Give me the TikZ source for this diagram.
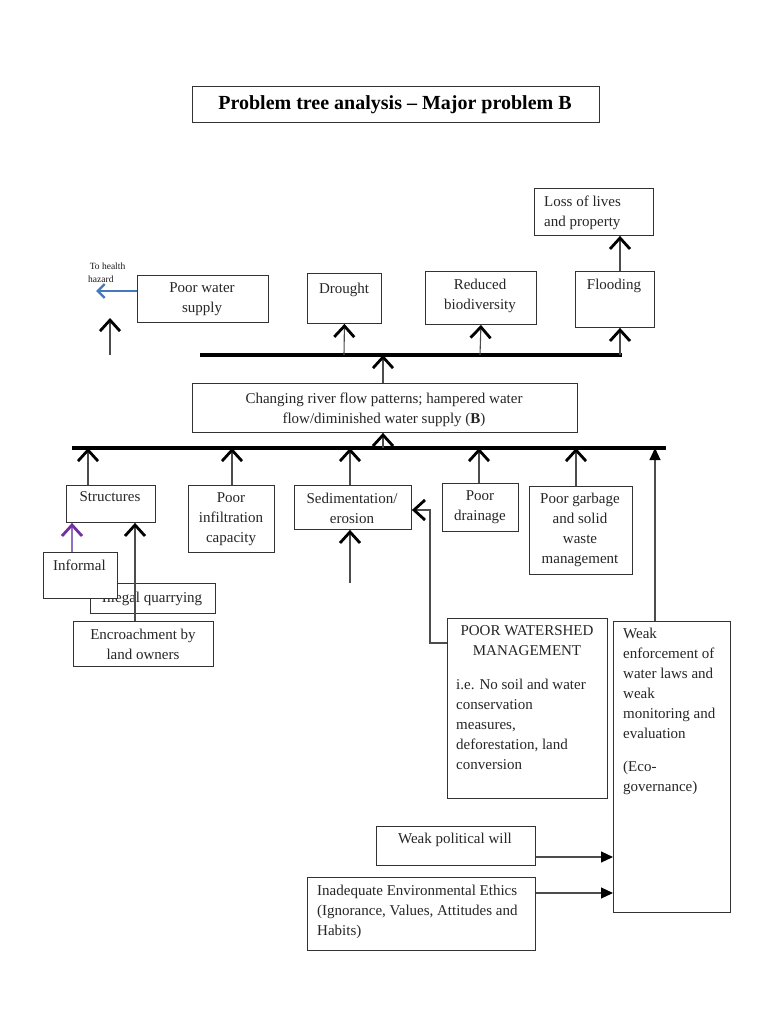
\documentclass[tikz,border=0pt]{standalone}
\usepackage{fontspec}
\setmainfont{Liberation Serif}
\usetikzlibrary{arrows.meta}
\definecolor{hblue}{RGB}{70,120,190}
\definecolor{purpl}{RGB}{112,48,160}
\definecolor{purpll}{RGB}{150,110,190}
\begin{document}
\begin{tikzpicture}[x=1pt,y=-1pt,
 box/.style={draw=black!80, line width=0.9pt, fill=white, inner sep=0pt, anchor=north west},
 txt/.style={font=\fontsize{15}{20}\selectfont, inner sep=0pt, anchor=north, align=center, text=black!85},
 ltxt/.style={font=\fontsize{15}{20}\selectfont, inner sep=0pt, anchor=north west, align=left, text=black!85},
 bar/.style={line width=3.2pt, black},
 chev/.style={draw=black!70, line width=1.1pt, -{Straight Barb[length=11pt,width=20pt,line width=2.8pt,color=black]}},
 tri/.style={draw=black!70, line width=1.1pt, -{Triangle[length=12pt,width=11pt,color=black]}},
]
\useasboundingbox (0,0) rectangle (768,1024);
\fill[white] (0,0) rectangle (768,1024);

% title
\node[box, line width=1.3pt, minimum width=407, minimum height=36] (title) at (192,86) {};
\node[inner sep=0pt, font=\fontsize{20}{24}\selectfont\bfseries] (titlet) at (395,104.5) {Problem tree analysis -- Major problem B};

% effects
\node[box, minimum width=119, minimum height=47] (loss) at (534,188) {};
\node[ltxt] (losst) at (544,195.5) {Loss of lives\\and property};
\node[box, minimum width=79, minimum height=56] (flood) at (575,271) {};
\node[txt] (floodt) at (614,278.5) {Flooding};
\node[box, minimum width=111, minimum height=53] (reduced) at (425,271) {};
\node[txt] (reducedt) at (480,278.5) {Reduced\\biodiversity};
\node[box, minimum width=74, minimum height=50] (drought) at (307,273) {};
\node[txt] (droughtt) at (344,282.5) {Drought};
\node[box, minimum width=131, minimum height=47] (pws) at (137,275) {};
\node[txt] (pwst) at (202,282.5) {Poor water\\supply};
\node[inner sep=0pt, anchor=north west, align=left, font=\fontsize{9.5}{13}\selectfont, text=black!90] (health) at (88,263) {\,To health\\hazard};

% core problem
\node[box, minimum width=385, minimum height=49] (main) at (192,383) {};
\node[txt] (maint) at (384,392.5) {Changing river flow patterns; hampered water\\flow/diminished water supply (\textbf{B})};

% causes
\node[box, minimum width=89, minimum height=37] (struct) at (66,485) {};
\node[txt] (structt) at (110,491.5) {Structures};
\node[box, minimum width=86, minimum height=67] (infil) at (188,485) {};
\node[txt] (infilt) at (231,492.5) {Poor\\infiltration\\capacity};
\node[box, minimum width=117, minimum height=44] (sed) at (294,485) {};
\node[txt] (sedt) at (352,492.5) {Sedimentation/\\erosion};
\node[box, minimum width=76, minimum height=48] (drain) at (442,483) {};
\node[txt] (draint) at (480,490.5) {Poor\\drainage};
\node[box, minimum width=103, minimum height=88] (garb) at (529,486) {};
\node[txt] (garbt) at (580,492.5) {Poor garbage\\and solid\\waste\\management};

\node[box, minimum width=125, minimum height=30] (illegal) at (90,583) {};
\node[txt] (illegalt) at (152,591.5) {Illegal quarrying};
\node[box, minimum width=74, minimum height=46] (informal) at (43,552) {};
\node[ltxt] (informalt) at (53,559.5) {Informal};
\node[box, minimum width=140, minimum height=45] (encro) at (73,621) {};
\node[txt] (encrot) at (143,628.5) {Encroachment by\\land owners};

\node[box, minimum width=160, minimum height=180] (ws) at (447,618) {};
\node[txt] (wst) at (527,625.5) {POOR WATERSHED\\MANAGEMENT};
\node[ltxt] (wsb) at (456,678.5) {i.e. No soil and water\\conservation\\measures,\\deforestation, land\\conversion};

\node[box, minimum width=117, minimum height=291] (we) at (613,621) {};
\node[ltxt] (wet) at (623,627.5) {Weak\\enforcement of\\water laws and\\weak\\monitoring and\\evaluation};
\node[ltxt] (weg) at (623,760.5) {(Eco-\\governance)};

\node[box, minimum width=159, minimum height=39] (pol) at (376,826) {};
\node[txt] (polt) at (455,832.5) {Weak political will};
\node[box, minimum width=228, minimum height=73] (ineq) at (307,877) {};
\node[ltxt] (ineqt) at (317,884.5) {Inadequate Environmental Ethics\\(Ignorance, Values, Attitudes and\\Habits)};

% bars
\coordinate (ubL) at (200,355);
\coordinate (ubR) at (622,355);
\draw[bar] (ubL) -- (ubR);
\coordinate (lbL) at (72,448);
\coordinate (lbR) at (666,448);
\draw[bar] (lbL) -- (lbR);

% upper connectors
\coordinate (ubD) at (344,355);
\coordinate (ubR2) at (480,355);
\coordinate (ubF) at (620,355);
\coordinate (ubM) at (383,355);
\draw[chev] (ubD) -- (drought.south);
\draw[chev] (ubR2) -- (reduced.south);
\draw[chev] (ubF) -- (flood.south -| ubF);
\draw[chev] (flood.north -| ubF) -- (loss.south -| ubF);
\draw[chev] (main.north -| ubM) -- (ubM);
\coordinate (la1) at (110,355);
\coordinate (la2) at (110,318);
\draw[chev] (la1) -- (la2);
\coordinate (hz) at (96,291);
\draw[draw=hblue, line width=1.1pt, -{Straight Barb[length=7pt,width=14pt,line width=2.4pt]}] (pws.west |- hz) -- (hz);

% lower connectors
\coordinate (lbM) at (383,448);
\draw[chev] (lbM) -- (main.south -| lbM);
\coordinate (lbS) at (88,448);
\coordinate (lbI) at (232,448);
\coordinate (lbSe) at (350,448);
\coordinate (lbD) at (479,448);
\coordinate (lbG) at (576,448);
\coordinate (lbW) at (655,448);
\draw[chev] (struct.north -| lbS) -- (lbS);
\draw[chev] (infil.north -| lbI) -- (lbI);
\draw[chev] (sed.north -| lbSe) -- (lbSe);
\draw[chev] (drain.north -| lbD) -- (lbD);
\draw[chev] (garb.north -| lbG) -- (lbG);
\draw[tri] (we.north -| lbW) -- (lbW);

\coordinate (sedb) at (350,583);
\draw[chev] (sedb) -- (sed.south -| sedb);

\coordinate (pur) at (72,522);
\draw[draw=purpll, line width=1.1pt, -{Straight Barb[length=11pt,width=20pt,line width=2.8pt,color=purpl]}] (informal.north -| pur) -- (struct.south -| pur);
\coordinate (enc) at (135,621);
\draw[chev] (encro.north -| enc) -- (struct.south -| enc);

\coordinate (wsy) at (430,643);
\coordinate (sedy) at (430,510);
\draw[chev] (ws.west |- wsy) -- (wsy) -- (sedy) -- (sed.east |- sedy);

\coordinate (py) at (535,857);
\coordinate (iy) at (535,893);
\draw[tri] (pol.east |- py) -- (we.west |- py);
\draw[tri] (ineq.east |- iy) -- (we.west |- iy);
\end{tikzpicture}
\end{document}
